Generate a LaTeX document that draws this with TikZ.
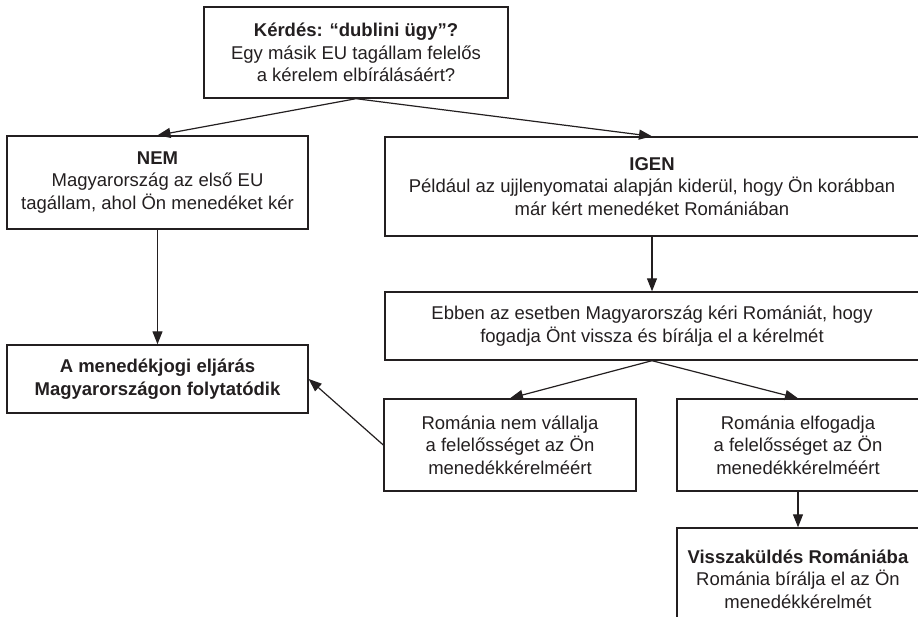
\documentclass[tikz,border=0pt]{standalone}
\usepackage{fontspec}
\setmainfont{Liberation Sans}
\usetikzlibrary{arrows.meta}
\definecolor{ink}{HTML}{231F20}
\begin{document}
\begin{tikzpicture}[x=1pt,y=-1pt,
  box/.style={draw=ink,line width=1.4pt,rectangle,inner sep=0pt,align=center,
    text=ink,font=\fontsize{18.5}{22.5}\selectfont},
  arr/.style={draw=ink,line width=1.2pt,-{Triangle[length=13pt,width=10pt]}}]
\useasboundingbox (0,0) rectangle (918,617);
\node[box,minimum width=304pt,minimum height=91pt] (top) at (356,52.5)
  {\textbf{Kérdés: “dublini ügy”?}\\Egy másik EU tagállam felelős\\a kérelem elbírálásáért?};
\node[box,minimum width=301pt,minimum height=93pt] (nem) at (157.5,182.5)
  {\textbf{NEM}\\Magyarország az első EU\\tagállam, ahol Ön menedéket kér};
\node[box,minimum width=534pt,minimum height=99pt] (igen) at (652,186.5)
  {\textbf{IGEN}\\Például az ujjlenyomatai alapján kiderül, hogy Ön korábban\\már kért menedéket Romániában};
\node[box,minimum width=534pt,minimum height=68pt] (ebben) at (652,326)
  {Ebben az esetben Magyarország kéri Romániát, hogy\\fogadja Önt vissza és bírálja el a kérelmét};
\node[box,minimum width=301pt,minimum height=68pt] (eljaras) at (157.5,379)
  {\textbf{A menedékjogi eljárás}\\\textbf{Magyarországon folytatódik}};
\node[box,minimum width=252pt,minimum height=92pt] (nemvall) at (510,445)
  {Románia nem vállalja\\a felelősséget az Ön\\menedékkérelméért};
\node[box,minimum width=242pt,minimum height=92pt] (elfog) at (798,445)
  {Románia elfogadja\\a felelősséget az Ön\\menedékkérelméért};
\node[box,minimum width=242pt,minimum height=102pt] (vissza) at (798,579)
  {\textbf{Visszaküldés Romániába}\\Románia bírálja el az Ön\\menedékkérelmét};
\draw[arr] (top.south) -- (nem.north);
\draw[arr] (top.south) -- (igen.north);
\draw[arr] (nem.south) -- (eljaras.north);
\draw[arr] (igen.south) -- (ebben.north);
\draw[arr] (ebben.south) -- (nemvall.north);
\draw[arr] (ebben.south) -- (elfog.north);
\draw[arr] (nemvall.west) -- (eljaras.east);
\draw[arr] (elfog.south) -- (vissza.north);
\end{tikzpicture}
\end{document}
